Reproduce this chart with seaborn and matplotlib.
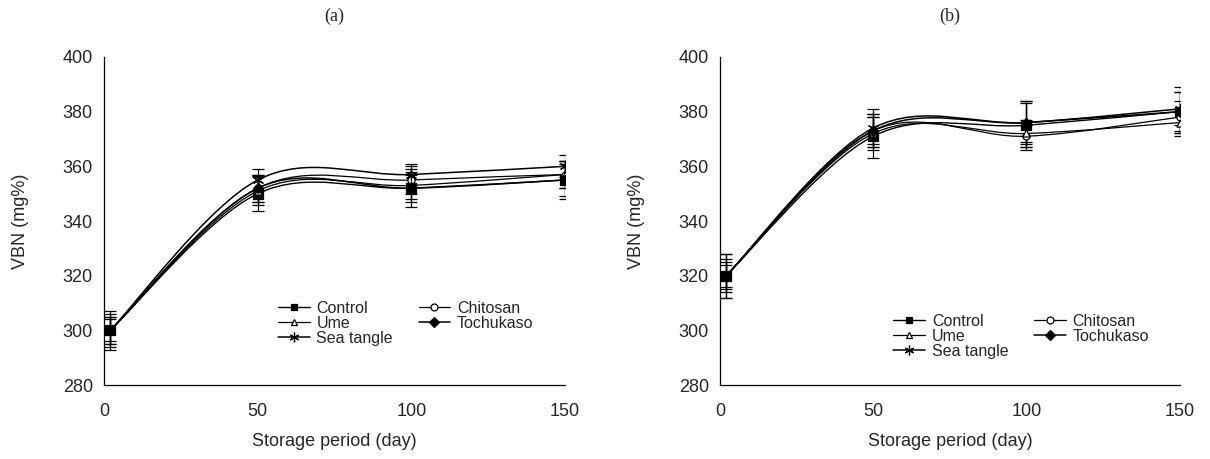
import numpy as np
import pandas as pd
import matplotlib
matplotlib.use("Agg")
from matplotlib import pyplot as plt
from matplotlib.path import Path
from matplotlib.patches import PathPatch
from matplotlib.lines import Line2D
import seaborn as sns

# storage days and treatments
days = [2, 50, 100, 150]
treatments = ["Control", "Chitosan", "Ume", "Tochukaso", "Sea tangle"]

# panel (a) VBN values (mg%)
vbn_a = {
    "Control": [300, 350, 352, 355],
    "Chitosan": [300, 352, 355, 357],
    "Ume": [300, 351, 353, 357],
    "Tochukaso": [300, 352, 352, 355],
    "Sea tangle": [300, 355, 357, 360],
}
sd_a = {
    "Control": [7, 6.5, 7, 7],
    "Chitosan": [5, 5, 5, 5],
    "Ume": [6, 5, 5, 5],
    "Tochukaso": [4, 5, 5, 6],
    "Sea tangle": [5, 4, 4, 4],
}

# panel (b) VBN values (mg%)
vbn_b = {
    "Control": [320, 371, 375, 380],
    "Chitosan": [320, 373, 371, 378],
    "Ume": [320, 372, 372, 376],
    "Tochukaso": [320, 373, 376, 380],
    "Sea tangle": [320, 374, 376, 381],
}
sd_b = {
    "Control": [8, 8, 9, 9],
    "Chitosan": [5, 5, 4, 6],
    "Ume": [6, 6, 5, 4],
    "Tochukaso": [4, 6, 8, 7],
    "Sea tangle": [8, 7, 7, 6],
}

panel_titles = ["(a)", "(b)"]

markers = {
    "Control": "s",
    "Chitosan": "o",
    "Ume": "^",
    "Tochukaso": "D",
    "Sea tangle": (6, 2, 0),
}
facecolors = {
    "Control": "black",
    "Chitosan": "white",
    "Ume": "white",
    "Tochukaso": "black",
    "Sea tangle": "black",
}
sizes = {"Control": 42, "Chitosan": 26, "Ume": 26, "Tochukaso": 26, "Sea tangle": 55}
line_widths = {"Control": 1.0, "Chitosan": 0.9, "Ume": 0.9, "Tochukaso": 1.1, "Sea tangle": 1.1}

sns.set_style("white")
plt.rcParams["font.family"] = ["Liberation Sans", "DejaVu Sans"]


def smooth_path(x, y):
    # Bezier path through the points (Catmull-Rom style, like spreadsheet smoothing)
    x = np.asarray(x, float)
    y = np.asarray(y, float)
    n = len(x)
    verts = [(x[0], y[0])]
    codes = [Path.MOVETO]
    for i in range(n - 1):
        i0 = max(i - 1, 0)
        i3 = min(i + 2, n - 1)
        c1 = (x[i] + (x[i + 1] - x[i0]) / 6, y[i] + (y[i + 1] - y[i0]) / 6)
        c2 = (x[i + 1] - (x[i3] - x[i]) / 6, y[i + 1] - (y[i3] - y[i]) / 6)
        verts += [c1, c2, (x[i + 1], y[i + 1])]
        codes += [Path.CURVE4] * 3
    return Path(verts, codes)


def draw_panel(ax, values, sds, title, legend_y):
    rows = []
    for t in treatments:
        for d, v, s in zip(days, values[t], sds[t]):
            rows.append({"day": d, "vbn": v, "sd": s, "Treatment": t})
    df = pd.DataFrame(rows)

    for t in treatments:
        sub = df[df["Treatment"] == t]
        ax.add_patch(PathPatch(smooth_path(sub["day"], sub["vbn"]), fill=False,
                               edgecolor="black", lw=line_widths[t], zorder=2))
        ax.errorbar(sub["day"], sub["vbn"], yerr=sub["sd"], fmt="none",
                    ecolor="black", elinewidth=0.9, capsize=4, capthick=0.9, zorder=3)
        sns.scatterplot(data=sub, x="day", y="vbn", marker=markers[t], s=sizes[t],
                        color=facecolors[t], edgecolor="black", linewidth=0.9,
                        ax=ax, zorder=4, legend=False)

    ax.set_xlim(0, 150)
    ax.set_ylim(280, 400)
    ax.set_xticks([0, 50, 100, 150])
    ax.set_yticks(range(280, 401, 20))
    ax.tick_params(direction="in", length=4, width=0.8, labelsize=13, pad=8)
    ax.tick_params(axis="x", pad=13)
    for side in ["top", "right"]:
        ax.spines[side].set_visible(False)
    for side in ["left", "bottom"]:
        ax.spines[side].set_color("black")
        ax.spines[side].set_linewidth(0.9)
    ax.set_xlabel("Storage period (day)", fontsize=13, labelpad=9)
    ax.set_ylabel("VBN (mg%)", fontsize=13, labelpad=24)
    ax.set_title(title, fontsize=13, family=["Liberation Serif", "DejaVu Serif"], pad=26)

    # row-wise legend order: Control, Chitosan / Ume, Tochukaso / Sea tangle
    order = ["Control", "Ume", "Sea tangle", "Chitosan", "Tochukaso"]
    handles = []
    for t in order:
        handles.append(Line2D([0], [0], color="black", lw=line_widths[t], marker=markers[t],
                              markerfacecolor=facecolors[t], markeredgecolor="black",
                              markersize=5 if t != "Sea tangle" else 7, markeredgewidth=0.9))
    ax.legend(handles, order, ncol=2, frameon=False, fontsize=11.5,
              loc="lower left", bbox_to_anchor=(0.36, legend_y), handlelength=2.0,
              handletextpad=0.4, labelspacing=0.0, columnspacing=1.6, borderpad=0)


fig = plt.figure(figsize=(12.1, 4.59), dpi=100)
ax_a = fig.add_axes([0.086, 0.161, 0.381, 0.715])
ax_b = fig.add_axes([0.595, 0.161, 0.380, 0.715])
draw_panel(ax_a, vbn_a, sd_a, panel_titles[0], 0.095)
draw_panel(ax_b, vbn_b, sd_b, panel_titles[1], 0.055)

fig.savefig("out.png", dpi=100)
plt.close(fig)
